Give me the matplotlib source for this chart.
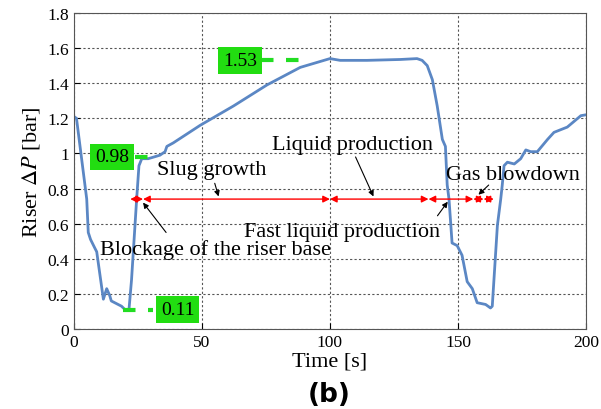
import numpy as np
import matplotlib
matplotlib.use('Agg')
import matplotlib.pyplot as plt
from matplotlib.ticker import FormatStrFormatter

plt.rcParams['font.family'] = ['Liberation Serif', 'DejaVu Serif']
plt.rcParams['mathtext.fontset'] = 'stix'

# riser pressure drop trace
time_s = [0, 1, 5, 5.6, 6.5, 8.2, 8.9, 11.5, 12.8, 14, 14.6, 18.6, 20, 21.5,
          22.5, 24.5, 25.4, 26.5, 29, 33.6, 35.6, 36.3, 38.8, 49.3, 62.3,
          75.4, 88.4, 100, 104, 114.5, 127.5, 134, 136, 138, 140, 141.9,
          143.9, 145.1, 145.8, 146.5, 147.7, 149.7, 151.6, 153.6, 155.6,
          157.5, 160.8, 162.7, 163.4, 165.4, 166.7, 167.3, 168, 169.3, 172,
          174.5, 176.5, 178.4, 181, 185, 187.5, 192.7, 198, 200]
dp_bar = [1.21, 1.2, 0.74, 0.55, 0.51, 0.46, 0.44, 0.17, 0.23, 0.19, 0.16,
          0.13, 0.11, 0.11, 0.28, 0.74, 0.93, 0.97, 0.97, 0.99, 1.01, 1.04,
          1.06, 1.16, 1.27, 1.39, 1.49, 1.54, 1.53, 1.53, 1.535, 1.54, 1.53,
          1.50, 1.42, 1.27, 1.08, 1.04, 0.82, 0.74, 0.49, 0.475, 0.42, 0.27,
          0.23, 0.15, 0.14, 0.12, 0.13, 0.59, 0.74, 0.82, 0.93, 0.95, 0.94,
          0.97, 1.02, 1.01, 1.01, 1.08, 1.12, 1.15, 1.215, 1.22]

# phase boundaries on the arrow row
phase_edges = [22, 27, 100, 138.5, 156, 160, 164]
arrow_level = 0.74

# marked values: (label, text x, text y, dash start, dash end)
marks = [
    ('1.53', 65, 1.53, 73, 88),
    ('0.98', 14.8, 0.98, 24, 30),
    ('0.11', 40.5, 0.11, 19, 31),
]

fig = plt.figure(figsize=(6.01, 4.10), dpi=100)
ax = fig.add_axes([0.123, 0.195, 0.852, 0.771])

ax.plot(time_s, dp_bar, color='#5b87c4', lw=2)

# green markers
for lab, tx, ty, d0, d1 in marks:
    ax.plot([d0, d1], [ty, ty], color='#22dd22', lw=3, dashes=(3, 3))
    ax.text(tx, ty, lab, fontsize=14, ha='center', va='center',
            bbox=dict(boxstyle='square,pad=0.25', fc='#22dd11', ec='none'))

# red phase arrows
for a, b in zip(phase_edges[:-1], phase_edges[1:]):
    ax.annotate('', xy=(a, arrow_level), xytext=(b, arrow_level),
                arrowprops=dict(arrowstyle='<|-|>', color='red', lw=1,
                                mutation_scale=10, shrinkA=0, shrinkB=0))

# phase labels with pointers
fs = 16
arr = dict(arrowstyle='-|>', color='black', lw=0.8, mutation_scale=8,
           shrinkA=0, shrinkB=0)
ax.text(32.5, 0.91, 'Slug growth', fontsize=fs, ha='left', va='center')
ax.annotate('', xy=(56.5, 0.755), xytext=(55, 0.83), arrowprops=arr)
ax.text(108.8, 1.05, 'Liquid production', fontsize=fs, ha='center', va='center')
ax.annotate('', xy=(117, 0.755), xytext=(110, 0.98), arrowprops=arr)
ax.text(171.5, 0.88, 'Gas blowdown', fontsize=fs, ha='center', va='center')
ax.annotate('', xy=(158, 0.765), xytext=(162, 0.82), arrowprops=arr)
ax.text(143.2, 0.555, 'Fast liquid production', fontsize=fs, ha='right', va='center')
ax.annotate('', xy=(146, 0.725), xytext=(142, 0.645), arrowprops=arr)
ax.text(10.2, 0.455, 'Blockage of the riser base', fontsize=fs, ha='left', va='center')
ax.annotate('', xy=(27, 0.72), xytext=(36, 0.55), arrowprops=arr)

ax.set_xlim(0, 200)
ax.set_ylim(0, 1.8)
ax.set_xticks([0, 50, 100, 150, 200])
ax.set_yticks(np.arange(0, 1.81, 0.2))
ax.yaxis.set_major_formatter(FormatStrFormatter('%g'))
ax.tick_params(direction='in', labelsize=12.5, length=4)
ax.grid(True, color='#555555', ls=(0, (2, 2)), lw=0.8)
for s in ax.spines.values():
    s.set_color('#555555')

ax.set_xlabel('Time [s]', fontsize=16, labelpad=1)
ax.set_ylabel(r'Riser $\Delta P$ [bar]', fontsize=16, labelpad=4)

fig.text(0.548, 0.037, '(b)', fontsize=19, fontweight='bold',
         family='DejaVu Sans', ha='center', va='center')

fig.savefig('out.png', dpi=100)
